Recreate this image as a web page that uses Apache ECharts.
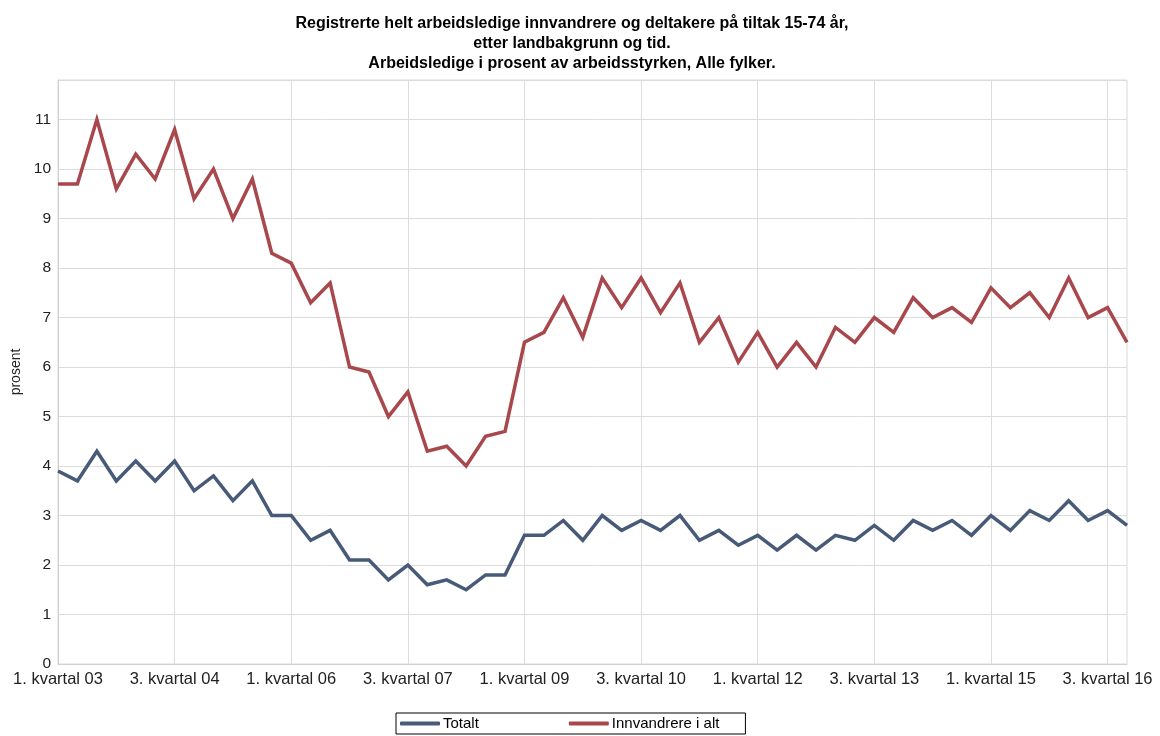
<!DOCTYPE html>
<html>
<head>
<meta charset="utf-8">
<script src="https://cdn.jsdelivr.net/npm/echarts@6/dist/echarts.min.js"></script>
<style>
html,body{margin:0;padding:0;background:#fff;}
#chart{width:1160px;height:736px;}
</style>
</head>
<body>
<div id="chart"></div>
<script>
const years = ['03','04','05','06','07','08','09','10','11','12','13','14','15','16'];
const quarters = [1, 2, 3, 4];
const categories = [];
years.forEach(y => quarters.forEach(q => categories.push(q + '. kvartal ' + y)));

const totalt = [3.9,3.7,4.3,3.7,4.1,3.7,4.1,3.5,3.8,3.3,3.7,3.0,3.0,2.5,2.7,2.1,2.1,1.7,2.0,1.6,1.7,1.5,1.8,1.8,2.6,2.6,2.9,2.5,3.0,2.7,2.9,2.7,3.0,2.5,2.7,2.4,2.6,2.3,2.6,2.3,2.6,2.5,2.8,2.5,2.9,2.7,2.9,2.6,3.0,2.7,3.1,2.9,3.3,2.9,3.1,2.8];
const innvandrere = [9.7,9.7,11.0,9.6,10.3,9.8,10.8,9.4,10.0,9.0,9.8,8.3,8.1,7.3,7.7,6.0,5.9,5.0,5.5,4.3,4.4,4.0,4.6,4.7,6.5,6.7,7.4,6.6,7.8,7.2,7.8,7.1,7.7,6.5,7.0,6.1,6.7,6.0,6.5,6.0,6.8,6.5,7.0,6.7,7.4,7.0,7.2,6.9,7.6,7.2,7.5,7.0,7.8,7.0,7.2,6.5];

const titleLines = [
  'Registrerte helt arbeidsledige innvandrere og deltakere på tiltak 15-74 år,',
  'etter landbakgrunn og tid.',
  'Arbeidsledige i prosent av arbeidsstyrken, Alle fylker.'
];
const seriesNames = ['Totalt', 'Innvandrere i alt'];
const yAxisName = 'prosent';

const chart = echarts.init(document.getElementById('chart'), null, {renderer: 'canvas'});
chart.setOption({
  animation: false,
  backgroundColor: '#fff',
  title: {
    text: titleLines.join('\n'),
    left: 567,
    textAlign: 'center',
    top: 9,
    textStyle: {
      fontFamily: 'Liberation Sans, Arial, sans-serif',
      fontSize: 16,
      fontWeight: 'bold',
      color: '#000',
      lineHeight: 20
    }
  },
  legend: {
    data: seriesNames,
    bottom: 2,
    left: 396,
    padding: [3, 26, 3, 4],
    itemGap: 90,
    itemWidth: 40,
    itemHeight: 4,
    icon: 'roundRect',
    borderColor: '#000',
    borderWidth: 1,
    textStyle: {
      fontFamily: 'Liberation Sans, Arial, sans-serif',
      fontSize: 15,
      color: '#000',
      padding: [0, 0, 0, -2]
    }
  },
  grid: {
    left: 58,
    right: 33,
    top: 80,
    bottom: 72,
    show: true,
    borderColor: '#d8d8d8',
    borderWidth: 1
  },
  xAxis: {
    type: 'category',
    data: categories,
    boundaryGap: false,
    axisLine: {show: true, lineStyle: {color: '#d0d0d0'}},
    axisTick: {show: false},
    axisLabel: {
      interval: 5,
      margin: 7,
      fontFamily: 'Liberation Sans, Arial, sans-serif',
      fontSize: 16.5,
      color: '#222'
    },
    splitLine: {show: true, interval: 5, lineStyle: {color: '#dcdcdc', width: 1}}
  },
  yAxis: {
    type: 'value',
    min: 0,
    max: 11.8,
    interval: 1,
    name: yAxisName,
    nameLocation: 'middle',
    nameGap: 31,
    nameTextStyle: {
      fontFamily: 'Liberation Sans, Arial, sans-serif',
      fontSize: 14,
      color: '#222'
    },
    axisLine: {show: true, lineStyle: {color: '#d0d0d0'}},
    axisTick: {show: false},
    axisLabel: {
      margin: 7,
      fontFamily: 'Liberation Sans, Arial, sans-serif',
      fontSize: 15.5,
      color: '#222',
      formatter: v => (Math.abs(v - Math.round(v)) < 1e-6 ? String(Math.round(v)) : '')
    },
    splitLine: {show: true, lineStyle: {color: '#dcdcdc', width: 1}}
  },
  series: [
    {
      name: seriesNames[0],
      type: 'line',
      data: totalt,
      showSymbol: false,
      symbol: 'none',
      color: '#475a78',
      lineStyle: {width: 3.5, color: '#475a78', join: 'miter'}
    },
    {
      name: seriesNames[1],
      type: 'line',
      data: innvandrere,
      showSymbol: false,
      symbol: 'none',
      color: '#a8474c',
      lineStyle: {width: 3.5, color: '#a8474c', join: 'miter'}
    }
  ]
});
</script>
</body>
</html>
